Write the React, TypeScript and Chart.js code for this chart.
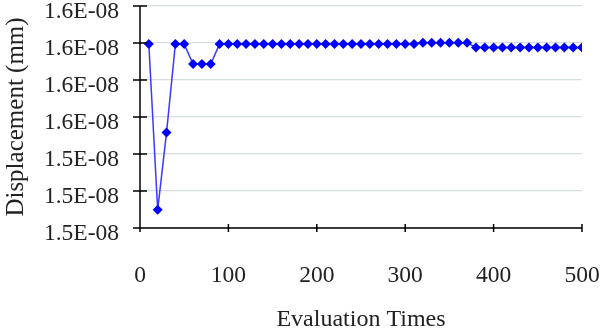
import React, { useEffect, useRef } from "react";
import { Chart, registerables } from "chart.js";

Chart.register(...registerables);

// Evaluation times (x) and displacement values in units of 1E-08 mm
const evaluationTimes = [
  10, 20, 30, 40, 50, 60, 70, 80, 90, 100,
  110, 120, 130, 140, 150, 160, 170, 180, 190, 200,
  210, 220, 230, 240, 250, 260, 270, 280, 290, 300,
  310, 320, 330, 340, 350, 360, 370, 380, 390, 400,
  410, 420, 430, 440, 450, 460, 470, 480, 490, 500,
];
const displacement = [
  1.5697, 1.5249, 1.5458, 1.5697, 1.5697, 1.5643, 1.5643, 1.5643, 1.5697, 1.5697,
  1.5697, 1.5697, 1.5697, 1.5697, 1.5697, 1.5697, 1.5697, 1.5697, 1.5697, 1.5697,
  1.5697, 1.5697, 1.5697, 1.5697, 1.5697, 1.5697, 1.5697, 1.5697, 1.5697, 1.5697,
  1.5697, 1.5701, 1.5701, 1.5701, 1.5701, 1.5701, 1.5701, 1.5688, 1.5688, 1.5688,
  1.5688, 1.5688, 1.5688, 1.5688, 1.5688, 1.5688, 1.5688, 1.5688, 1.5688, 1.5688,
];
const yMin = 1.52;
const yMax = 1.58;
const yStep = 0.01;
const yTickLabels = ["1.5E-08", "1.5E-08", "1.5E-08", "1.6E-08", "1.6E-08", "1.6E-08", "1.6E-08"];
const xTickValues = [0, 100, 200, 300, 400, 500];

const FONT = "'Liberation Serif', 'Times New Roman', serif";

const crossTicks = {
  id: "crossTicks",
  afterDraw(chart: any) {
    const { ctx, scales } = chart;
    const xs = scales.x;
    const ys = scales.y;
    ctx.save();
    ctx.strokeStyle = "#000000";
    ctx.lineWidth = 1.5;
    ctx.beginPath();
    ctx.moveTo(xs.left, ys.bottom);
    ctx.lineTo(xs.right, ys.bottom);
    ctx.moveTo(xs.left, ys.top);
    ctx.lineTo(xs.left, ys.bottom);
    xs.ticks.forEach((t: any) => {
      const px = xs.getPixelForValue(t.value);
      ctx.moveTo(px, ys.bottom - 4);
      ctx.lineTo(px, ys.bottom + 4);
    });
    ys.ticks.forEach((t: any) => {
      const py = ys.getPixelForValue(t.value);
      ctx.moveTo(xs.left - 7, py);
      ctx.lineTo(xs.left + 7, py);
    });
    ctx.stroke();
    ctx.restore();
  },
};

export default function App() {
  const ref = useRef<HTMLCanvasElement | null>(null);
  useEffect(() => {
    document.body.style.margin = "0";
    const canvas = ref.current!;
    const chart = new Chart(canvas, {
      type: "line",
      data: {
        datasets: [
          {
            data: evaluationTimes.map((x, i) => ({ x, y: displacement[i] })),
            borderColor: "#3a3aff",
            borderWidth: 1.5,
            pointStyle: "rectRot",
            pointRadius: 5,
            pointBackgroundColor: "#0000ff",
            pointBorderColor: "#0000ff",
            pointBorderWidth: 0,
            tension: 0,
          },
        ],
      },
      plugins: [crossTicks],
      options: {
        animation: false,
        responsive: false,
        events: [],
        layout: { padding: { top: 6, right: 20, left: 0, bottom: 0 } },
        plugins: { legend: { display: false }, tooltip: { enabled: false } },
        scales: {
          x: {
            type: "linear",
            min: 0,
            max: 500,
            afterBuildTicks: (s: any) => {
              s.ticks = xTickValues.map((v) => ({ value: v }));
            },
            afterFit: (s: any) => {
              s.height = 108;
              s.paddingLeft = 0;
              s.paddingRight = 0;
            },
            grid: { display: false, drawTicks: false },
            border: { display: false },
            ticks: {
              padding: 34,
              color: "#222",
              font: { family: FONT, size: 23.5 },
              maxRotation: 0,
            },
            title: {
              display: true,
              text: "Evaluation Times",
              color: "#222",
              font: { family: FONT, size: 24 },
              padding: { top: 0, bottom: 2 },
            },
          },
          y: {
            type: "linear",
            min: yMin,
            max: yMax,
            afterFit: (s: any) => {
              s.width = 140;
              s.paddingTop = 0;
              s.paddingBottom = 0;
            },
            grid: { color: "#d6dfe0", lineWidth: 1.2, drawTicks: false },
            border: { display: false },
            ticks: {
              stepSize: yStep,
              padding: 21,
              labelOffset: 6,
              color: "#222",
              font: { family: FONT, size: 23.5 },
              callback: (v: any) => yTickLabels[Math.round((Number(v) - yMin) / yStep)] ?? "",
            },
            title: {
              display: true,
              text: "Displacement (mm)",
              color: "#222",
              font: { family: FONT, size: 25 },
              padding: { top: 1, bottom: 0 },
            },
          },
        },
      },
    });
    return () => chart.destroy();
  }, []);
  return (
    <div style={{ position: "fixed", left: 0, top: 0, width: 602, height: 336, background: "#fff" }}>
      <canvas ref={ref} width={602} height={336} />
    </div>
  );
}
